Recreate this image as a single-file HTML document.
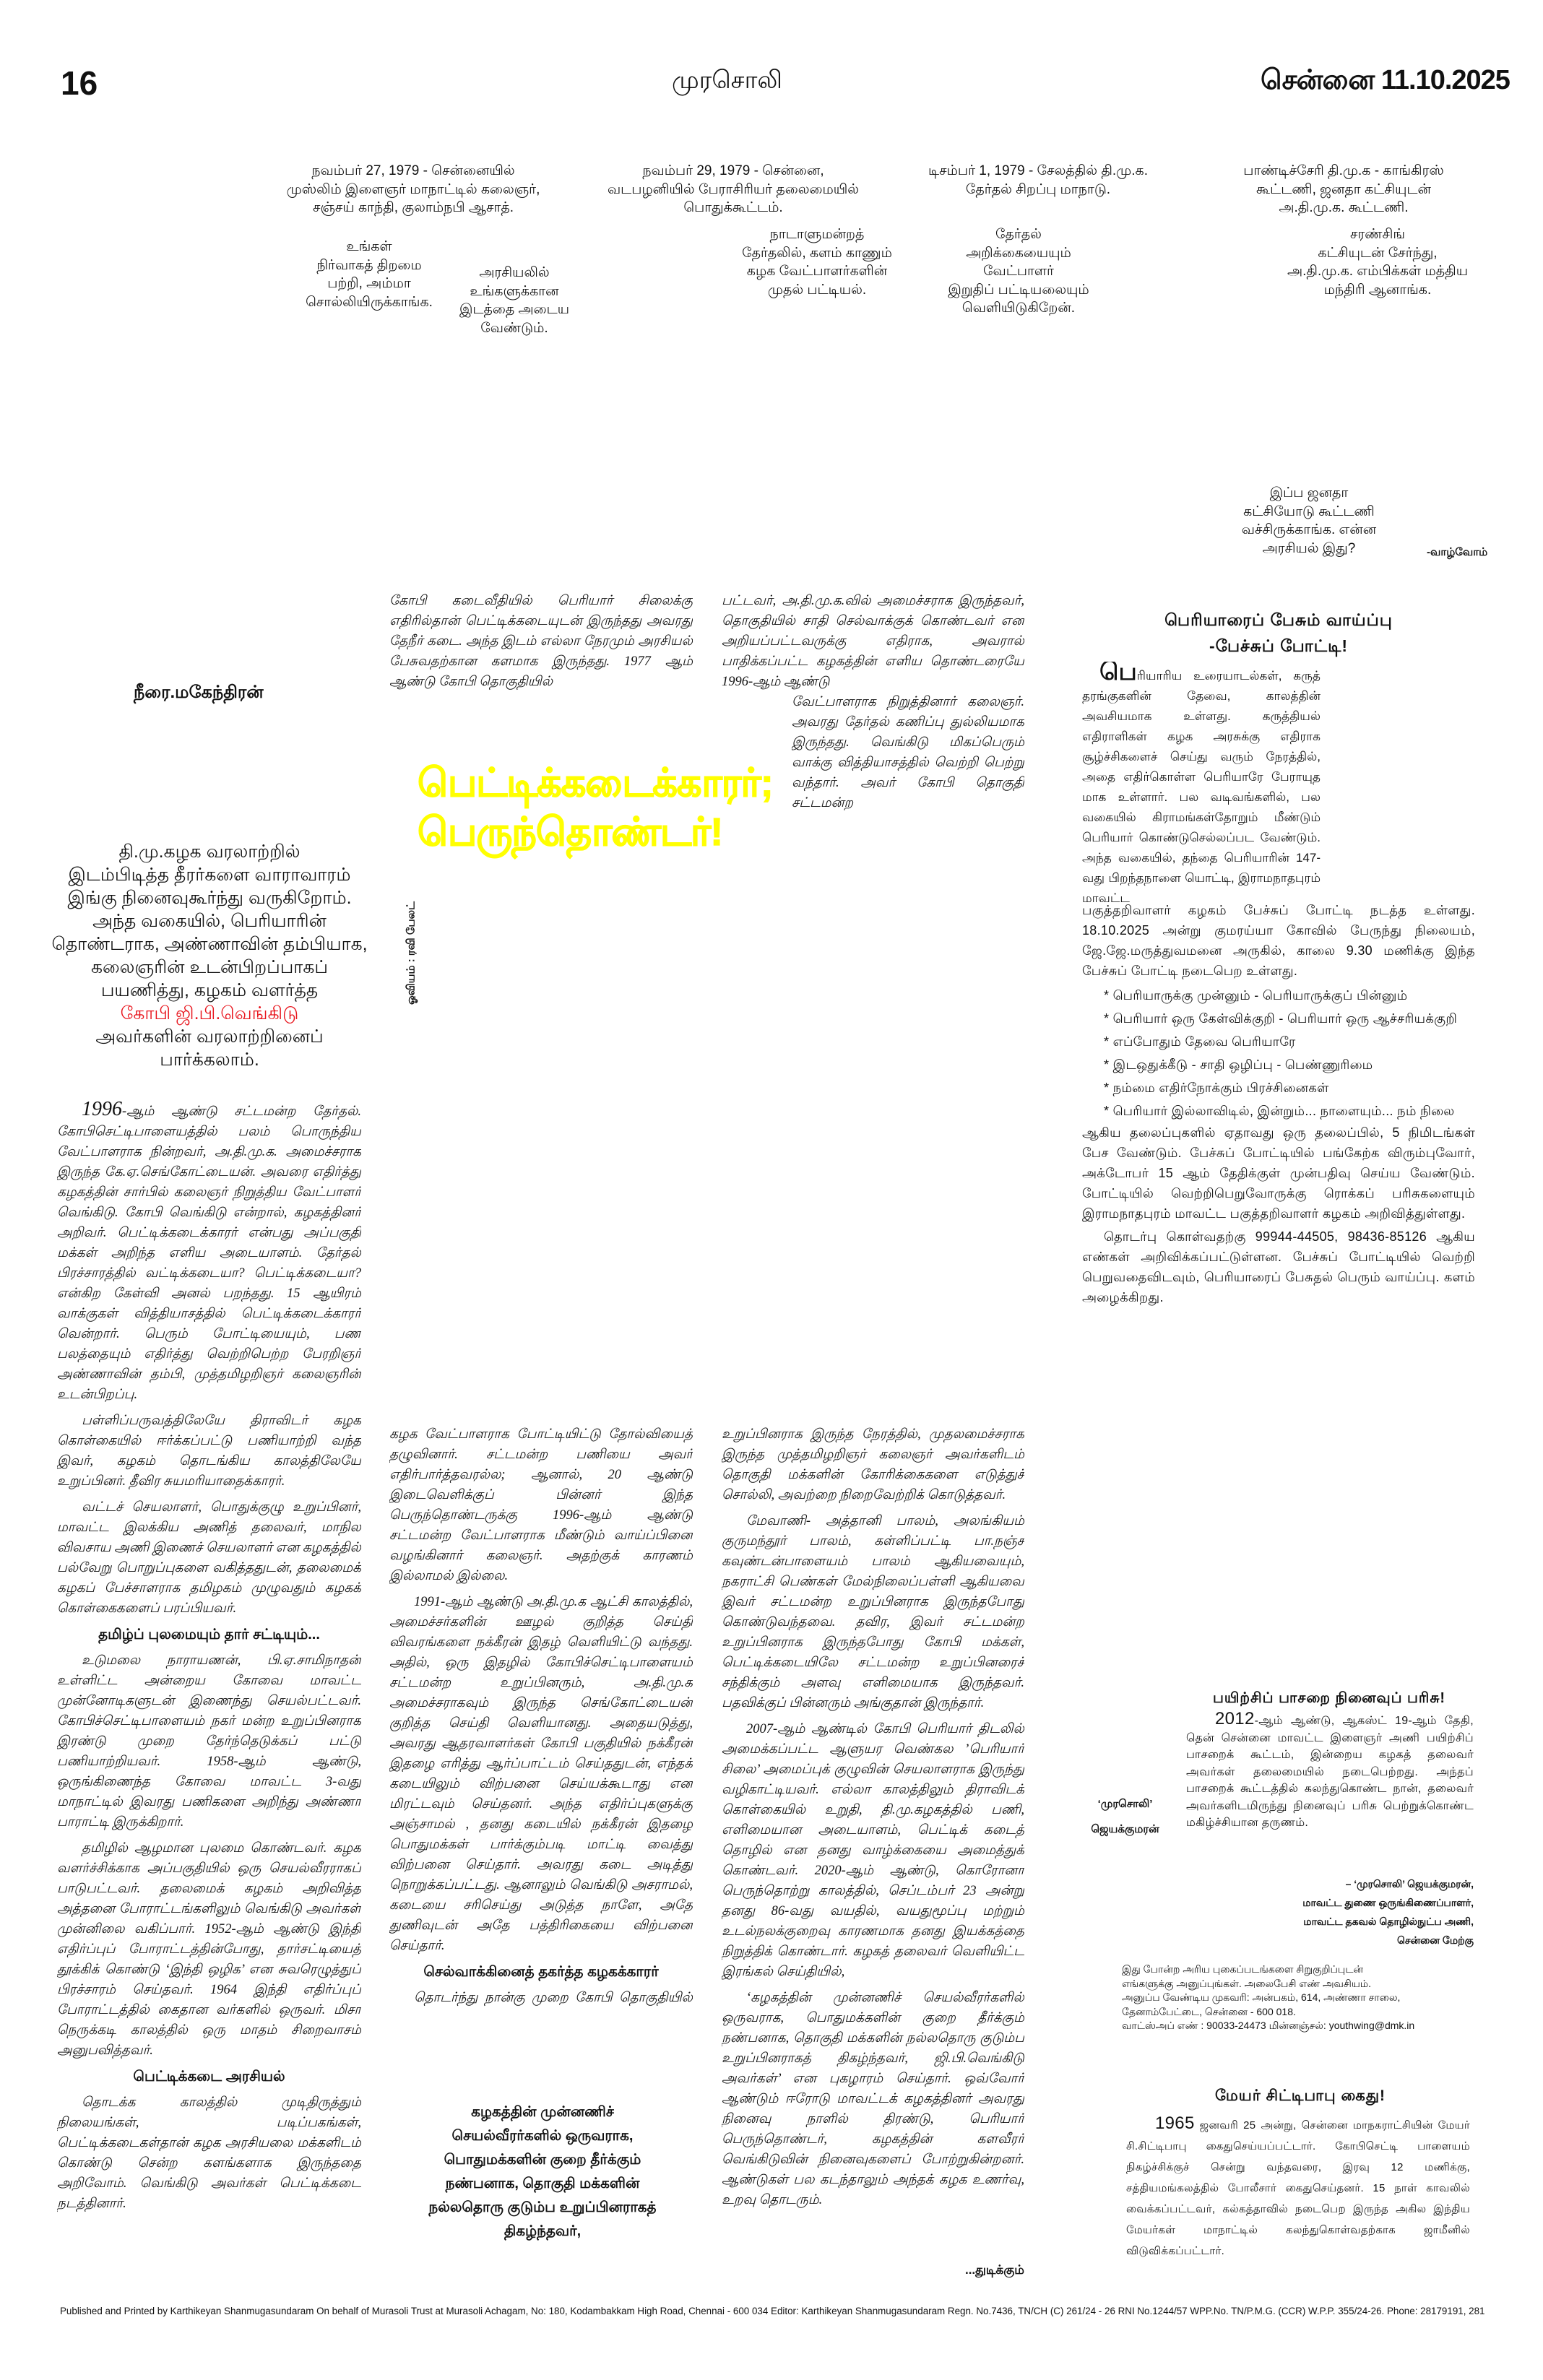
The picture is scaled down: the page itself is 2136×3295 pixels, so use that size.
<!DOCTYPE html>
<html><head><meta charset="utf-8"><style>
body{margin:0;background:#fff;}
#pg{position:relative;width:2136px;height:3295px;overflow:hidden;background:#fff;font-family:"Liberation Sans","Noto Sans CJK SC",sans-serif;color:#111;}
.a{position:absolute;}
.cap{position:absolute;text-align:center;font-size:19px;line-height:25.5px;font-family:"Liberation Sans Narrow","Liberation Sans",sans-serif;}
.col{position:absolute;font-size:18.5px;line-height:28px;text-align:justify;overflow:hidden;font-family:"Liberation Serif",serif;font-style:italic;}
.col p{margin:0 0 8px 0;text-indent:34px;}
.sub{font-weight:bold;font-style:normal;text-align:center;font-size:20px;margin:6px 0 8px 0;font-family:"Liberation Sans",sans-serif;}
.rt{position:absolute;font-size:18px;text-align:justify;overflow:hidden;letter-spacing:0.3px;}
.rt p{margin:0;}
</style></head><body><div id="pg">

<div class="a" style="left:84px;top:88px;font-size:46px;font-weight:bold;">16</div>
<div class="a" style="left:930px;top:92px;font-size:34px;">முரசொலி</div>
<div class="a" style="left:1745px;top:90px;font-size:38px;font-weight:bold;letter-spacing:-1px;">சென்னை 11.10.2025</div>

<div class="cap" style="left:392px;top:224px;width:360px;">நவம்பர் 27, 1979 - சென்னையில்<br>முஸ்லிம் இளைஞர் மாநாட்டில் கலைஞர்,<br>சஞ்சய் காந்தி, குலாம்நபி ஆசாத்.</div>
<div class="cap" style="left:830px;top:224px;width:370px;">நவம்பர் 29, 1979 - சென்னை,<br>வடபழனியில் பேராசிரியர் தலைமையில்<br>பொதுக்கூட்டம்.</div>
<div class="cap" style="left:1250px;top:224px;width:374px;">டிசம்பர் 1, 1979 - சேலத்தில் தி.மு.க.<br>தேர்தல் சிறப்பு மாநாடு.</div>
<div class="cap" style="left:1690px;top:224px;width:340px;">பாண்டிச்சேரி தி.மு.க - காங்கிரஸ்<br>கூட்டணி, ஜனதா கட்சியுடன்<br>அ.தி.மு.க. கூட்டணி.</div>

<div class="cap" style="left:421px;top:329px;width:180px;">உங்கள்<br>நிர்வாகத் திறமை<br>பற்றி, அம்மா<br>சொல்லியிருக்காங்க.</div>
<div class="cap" style="left:627px;top:365px;width:170px;">அரசியலில்<br>உங்களுக்கான<br>இடத்தை அடைய<br>வேண்டும்.</div>
<div class="cap" style="left:1026px;top:312px;width:210px;">நாடாளுமன்றத்<br>தேர்தலில், களம் காணும்<br>கழக வேட்பாளர்களின்<br>முதல் பட்டியல்.</div>
<div class="cap" style="left:1290px;top:312px;width:240px;">தேர்தல்<br>அறிக்கையையும் வேட்பாளர்<br>இறுதிப் பட்டியலையும்<br>வெளியிடுகிறேன்.</div>
<div class="cap" style="left:1747px;top:312px;width:320px;">சரண்சிங்<br>கட்சியுடன் சேர்ந்து,<br>அ.தி.மு.க. எம்பிக்கள் மத்திய<br>மந்திரி ஆனாங்க.</div>
<div class="cap" style="left:1702px;top:670px;width:220px;">இப்ப ஜனதா<br>கட்சியோடு கூட்டணி<br>வச்சிருக்காங்க. என்ன<br>அரசியல் இது?</div>
<div class="a" style="left:1975px;top:756px;font-size:15px;font-weight:bold;">-வாழ்வோம்</div>

<div class="a" style="left:185px;top:945px;font-size:24px;font-weight:bold;">நீரை.மகேந்திரன்</div>
<div class="a" style="left:70px;top:1163px;width:440px;text-align:center;font-size:25px;line-height:32px;">தி.மு.கழக வரலாற்றில்<br>இடம்பிடித்த தீரர்களை வாராவாரம்<br>இங்கு நினைவுகூர்ந்து வருகிறோம்.<br>அந்த வகையில், பெரியாரின்<br>தொண்டராக, அண்ணாவின் தம்பியாக,<br>கலைஞரின் உடன்பிறப்பாகப்<br>பயணித்து, கழகம் வளர்த்த<br><span style="color:#e8141c">கோபி ஜி.பி.வெங்கிடு</span><br>அவர்களின் வரலாற்றினைப்<br>பார்க்கலாம்.</div>

<div class="a" style="left:578px;top:1050px;color:#ffff00;font-weight:bold;font-size:54px;line-height:68px;letter-spacing:-1px;-webkit-text-stroke:1.2px #ffff00;">பெட்டிக்கடைக்காரர்;<br>பெருந்தொண்டர்!</div>
<div class="a" style="left:470px;top:1310px;width:200px;font-size:15px;font-weight:bold;transform:rotate(-90deg);text-align:center;">ஓவியம் : ரவி பேலட்</div>

<div class="col" style="left:79px;top:1522px;width:421px;height:1610px;">
<p><span style="font-size:28px">1996</span>-ஆம் ஆண்டு சட்டமன்ற தேர்தல். கோபிசெட்டிபாளையத்தில் பலம் பொருந்திய வேட்பாளராக நின்றவர், அ.தி.மு.க. அமைச்சராக இருந்த கே.ஏ.செங்கோட்டையன். அவரை எதிர்த்து கழகத்தின் சார்பில் கலைஞர் நிறுத்திய வேட்பாளர் வெங்கிடு. கோபி வெங்கிடு என்றால், கழகத்தினர் அறிவர். பெட்டிக்கடைக்காரர் என்பது அப்பகுதி மக்கள் அறிந்த எளிய அடையாளம். தேர்தல் பிரச்சாரத்தில் வட்டிக்கடையா? பெட்டிக்கடையா? என்கிற கேள்வி அனல் பறந்தது. 15 ஆயிரம் வாக்குகள் வித்தியாசத்தில் பெட்டிக்கடைக்காரர் வென்றார். பெரும் போட்டியையும், பண பலத்தையும் எதிர்த்து வெற்றிபெற்ற பேரறிஞர் அண்ணாவின் தம்பி, முத்தமிழறிஞர் கலைஞரின் உடன்பிறப்பு.</p>
<p>பள்ளிப்பருவத்திலேயே திராவிடர் கழக கொள்கையில் ஈர்க்கப்பட்டு பணியாற்றி வந்த இவர், கழகம் தொடங்கிய காலத்திலேயே உறுப்பினர். தீவிர சுயமரியாதைக்காரர்.</p>
<p>வட்டச் செயலாளர், பொதுக்குழு உறுப்பினர், மாவட்ட இலக்கிய அணித் தலைவர், மாநில விவசாய அணி இணைச் செயலாளர் என கழகத்தில் பல்வேறு பொறுப்புகளை வகித்ததுடன், தலைமைக் கழகப் பேச்சாளராக தமிழகம் முழுவதும் கழகக் கொள்கைகளைப் பரப்பியவர்.</p>
<div class="sub">தமிழ்ப் புலமையும் தார் சட்டியும்...</div>
<p>உடுமலை நாராயணன், பி.ஏ.சாமிநாதன் உள்ளிட்ட அன்றைய கோவை மாவட்ட முன்னோடிகளுடன் இணைந்து செயல்பட்டவர். கோபிச்செட்டிபாளையம் நகர் மன்ற உறுப்பினராக இரண்டு முறை தேர்ந்தெடுக்கப் பட்டு பணியாற்றியவர். 1958-ஆம் ஆண்டு, ஒருங்கிணைந்த கோவை மாவட்ட 3-வது மாநாட்டில் இவரது பணிகளை அறிந்து அண்ணா பாராட்டி இருக்கிறார்.</p>
<p>தமிழில் ஆழமான புலமை கொண்டவர். கழக வளர்ச்சிக்காக அப்பகுதியில் ஒரு செயல்வீரராகப் பாடுபட்டவர். தலைமைக் கழகம் அறிவித்த அத்தனை போராட்டங்களிலும் வெங்கிடு அவர்கள் முன்னிலை வகிப்பார். 1952-ஆம் ஆண்டு இந்தி எதிர்ப்புப் போராட்டத்தின்போது, தார்சட்டியைத் தூக்கிக் கொண்டு ‘இந்தி ஒழிக’ என சுவரெழுத்துப் பிரச்சாரம் செய்தவர். 1964 இந்தி எதிர்ப்புப் போராட்டத்தில் கைதான வர்களில் ஒருவர். மிசா நெருக்கடி காலத்தில் ஒரு மாதம் சிறைவாசம் அனுபவித்தவர்.</p>
<div class="sub">பெட்டிக்கடை அரசியல்</div>
<p>தொடக்க காலத்தில் முடிதிருத்தும் நிலையங்கள், படிப்பகங்கள், பெட்டிக்கடைகள்தான் கழக அரசியலை மக்களிடம் கொண்டு சென்ற களங்களாக இருந்ததை அறிவோம். வெங்கிடு அவர்கள் பெட்டிக்கடை நடத்தினார்.</p>
</div>

<div class="col" style="left:539px;top:818px;width:420px;height:140px;">
கோபி கடைவீதியில் பெரியார் சிலைக்கு எதிரில்தான் பெட்டிக்கடையுடன் இருந்தது அவரது தேநீர் கடை. அந்த இடம் எல்லா நேரமும் அரசியல் பேசுவதற்கான களமாக இருந்தது. 1977 ஆம் ஆண்டு கோபி தொகுதியில்</div>
<div class="col" style="left:999px;top:818px;width:419px;height:140px;">
பட்டவர், அ.தி.மு.க.வில் அமைச்சராக இருந்தவர், தொகுதியில் சாதி செல்வாக்குக் கொண்டவர் என அறியப்பட்டவருக்கு எதிராக, அவரால் பாதிக்கப்பட்ட கழகத்தின் எளிய தொண்டரையே 1996-ஆம் ஆண்டு</div>
<div class="col" style="left:1096px;top:958px;width:322px;height:170px;">
வேட்பாளராக நிறுத்தினார் கலைஞர். அவரது தேர்தல் கணிப்பு துல்லியமாக இருந்தது. வெங்கிடு மிகப்பெரும் வாக்கு வித்தியாசத்தில் வெற்றி பெற்று வந்தார். அவர் கோபி தொகுதி சட்டமன்ற</div>

<div class="col" style="left:539px;top:1972px;width:420px;height:810px;">
<p style="text-indent:0">கழக வேட்பாளராக போட்டியிட்டு தோல்வியைத் தழுவினார். சட்டமன்ற பணியை அவர் எதிர்பார்த்தவரல்ல; ஆனால், 20 ஆண்டு இடைவெளிக்குப் பின்னர் இந்த பெருந்தொண்டருக்கு 1996-ஆம் ஆண்டு சட்டமன்ற வேட்பாளராக மீண்டும் வாய்ப்பினை வழங்கினார் கலைஞர். அதற்குக் காரணம் இல்லாமல் இல்லை.</p>
<p>1991-ஆம் ஆண்டு அ.தி.மு.க ஆட்சி காலத்தில், அமைச்சர்களின் ஊழல் குறித்த செய்தி விவரங்களை நக்கீரன் இதழ் வெளியிட்டு வந்தது. அதில், ஒரு இதழில் கோபிச்செட்டிபாளையம் சட்டமன்ற உறுப்பினரும், அ.தி.மு.க அமைச்சராகவும் இருந்த செங்கோட்டையன் குறித்த செய்தி வெளியானது. அதையடுத்து, அவரது ஆதரவாளர்கள் கோபி பகுதியில் நக்கீரன் இதழை எரித்து ஆர்ப்பாட்டம் செய்ததுடன், எந்தக் கடையிலும் விற்பனை செய்யக்கூடாது என மிரட்டவும் செய்தனர். அந்த எதிர்ப்புகளுக்கு அஞ்சாமல் , தனது கடையில் நக்கீரன் இதழை பொதுமக்கள் பார்க்கும்படி மாட்டி வைத்து விற்பனை செய்தார். அவரது கடை அடித்து நொறுக்கப்பட்டது. ஆனாலும் வெங்கிடு அசராமல், கடையை சரிசெய்து அடுத்த நாளே, அதே துணிவுடன் அதே பத்திரிகையை விற்பனை செய்தார்.</p>
<div class="sub">செல்வாக்கினைத் தகர்த்த கழகக்காரர்</div>
<p>தொடர்ந்து நான்கு முறை கோபி தொகுதியில் சட்டமன்ற உறுப்பினராகத் தேர்ந்தெடுக்கப்</p>
</div>

<div class="a" style="left:590px;top:2908px;width:322px;text-align:center;font-size:20px;line-height:33px;font-weight:bold;">கழகத்தின் முன்னணிச்<br>செயல்வீரர்களில் ஒருவராக,<br>பொதுமக்களின் குறை தீர்க்கும்<br>நண்பனாக, தொகுதி மக்களின்<br>நல்லதொரு குடும்ப உறுப்பினராகத்<br>திகழ்ந்தவர்,</div>

<div class="col" style="left:999px;top:1972px;width:419px;height:1150px;">
<p style="text-indent:0">உறுப்பினராக இருந்த நேரத்தில், முதலமைச்சராக இருந்த முத்தமிழறிஞர் கலைஞர் அவர்களிடம் தொகுதி மக்களின் கோரிக்கைகளை எடுத்துச் சொல்லி, அவற்றை நிறைவேற்றிக் கொடுத்தவர்.</p>
<p>மேவாணி- அத்தானி பாலம், அலங்கியம் குருமந்தூர் பாலம், கள்ளிப்பட்டி பா.நஞ்ச கவுண்டன்பாளையம் பாலம் ஆகியவையும், நகராட்சி பெண்கள் மேல்நிலைப்பள்ளி ஆகியவை இவர் சட்டமன்ற உறுப்பினராக இருந்தபோது கொண்டுவந்தவை. தவிர, இவர் சட்டமன்ற உறுப்பினராக இருந்தபோது கோபி மக்கள், பெட்டிக்கடையிலே சட்டமன்ற உறுப்பினரைச் சந்திக்கும் அளவு எளிமையாக இருந்தவர். பதவிக்குப் பின்னரும் அங்குதான் இருந்தார்.</p>
<p>2007-ஆம் ஆண்டில் கோபி பெரியார் திடலில் அமைக்கப்பட்ட ஆளுயர வெண்கல ’பெரியார் சிலை’ அமைப்புக் குழுவின் செயலாளராக இருந்து வழிகாட்டியவர். எல்லா காலத்திலும் திராவிடக் கொள்கையில் உறுதி, தி.மு.கழகத்தில் பணி, எளிமையான அடையாளம், பெட்டிக் கடைத் தொழில் என தனது வாழ்க்கையை அமைத்துக் கொண்டவர். 2020-ஆம் ஆண்டு, கொரோனா பெருந்தொற்று காலத்தில், செப்டம்பர் 23 அன்று தனது 86-வது வயதில், வயதுமூப்பு மற்றும் உடல்நலக்குறைவு காரணமாக தனது இயக்கத்தை நிறுத்திக் கொண்டார். கழகத் தலைவர் வெளியிட்ட இரங்கல் செய்தியில்,</p>
<p>‘கழகத்தின் முன்னணிச் செயல்வீரர்களில் ஒருவராக, பொதுமக்களின் குறை தீர்க்கும் நண்பனாக, தொகுதி மக்களின் நல்லதொரு குடும்ப உறுப்பினராகத் திகழ்ந்தவர், ஜி.பி.வெங்கிடு அவர்கள்’ என புகழாரம் செய்தார். ஒவ்வோர் ஆண்டும் ஈரோடு மாவட்டக் கழகத்தினர் அவரது நினைவு நாளில் திரண்டு, பெரியார் பெருந்தொண்டர், கழகத்தின் களவீரர் வெங்கிடுவின் நினைவுகளைப் போற்றுகின்றனர். ஆண்டுகள் பல கடந்தாலும் அந்தக் கழக உணர்வு, உறவு தொடரும்.</p>
</div>
<div class="a" style="left:1310px;top:3133px;width:108px;text-align:right;font-size:17px;font-weight:bold;">...துடிக்கும்</div>

<div class="a" style="left:1560px;top:840px;width:420px;text-align:center;font-size:23px;line-height:36px;font-weight:bold;letter-spacing:1px;">பெரியாரைப் பேசும் வாய்ப்பு<br>-பேச்சுப் போட்டி!</div>
<div class="rt" style="left:1498px;top:916px;width:330px;height:336px;line-height:28px;font-size:17px;letter-spacing:0;"><p><span style="font-size:34px;font-weight:bold;padding-left:24px">பெ</span>ரியாரிய உரையாடல்கள், கருத் தரங்குகளின் தேவை, காலத்தின் அவசியமாக உள்ளது. கருத்தியல் எதிராளிகள் கழக அரசுக்கு எதிராக சூழ்ச்சிகளைச் செய்து வரும் நேரத்தில், அதை எதிர்கொள்ள பெரியாரே பேராயுத மாக உள்ளார். பல வடிவங்களில், பல வகையில் கிராமங்கள்தோறும் மீண்டும் பெரியார் கொண்டுசெல்லப்பட வேண்டும். அந்த வகையில், தந்தை பெரியாரின் 147-வது பிறந்தநாளை யொட்டி, இராமநாதபுரம் மாவட்ட</p></div>
<div class="rt" style="left:1498px;top:1246px;width:544px;height:570px;line-height:28px;">
<p>பகுத்தறிவாளர் கழகம் பேச்சுப் போட்டி நடத்த உள்ளது. 18.10.2025 அன்று குமரய்யா கோவில் பேருந்து நிலையம், ஜே.ஜே.மருத்துவமனை அருகில், காலை 9.30 மணிக்கு இந்த பேச்சுப் போட்டி நடைபெற உள்ளது.</p>
<p style="padding-left:30px;line-height:32px;margin-top:4px">* பெரியாருக்கு முன்னும் - பெரியாருக்குப் பின்னும்<br>* பெரியார் ஒரு கேள்விக்குறி - பெரியார் ஒரு ஆச்சரியக்குறி<br>* எப்போதும் தேவை பெரியாரே<br>* இடஒதுக்கீடு - சாதி ஒழிப்பு - பெண்ணுரிமை<br>* நம்மை எதிர்நோக்கும் பிரச்சினைகள்<br>* பெரியார் இல்லாவிடில், இன்றும்... நாளையும்... நம் நிலை</p>
<p>ஆகிய தலைப்புகளில் ஏதாவது ஒரு தலைப்பில், 5 நிமிடங்கள் பேச வேண்டும். பேச்சுப் போட்டியில் பங்கேற்க விரும்புவோர், அக்டோபர் 15 ஆம் தேதிக்குள் முன்பதிவு செய்ய வேண்டும். போட்டியில் வெற்றிபெறுவோருக்கு ரொக்கப் பரிசுகளையும் இராமநாதபுரம் மாவட்ட பகுத்தறிவாளர் கழகம் அறிவித்துள்ளது.</p>
<p style="text-indent:30px;margin-top:4px">தொடர்பு கொள்வதற்கு 99944-44505, 98436-85126 ஆகிய எண்கள் அறிவிக்கப்பட்டுள்ளன. பேச்சுப் போட்டியில் வெற்றி பெறுவதைவிடவும், பெரியாரைப் பேசுதல் பெரும் வாய்ப்பு. களம் அழைக்கிறது.</p>
</div>

<div class="a" style="left:1640px;top:2340px;width:400px;text-align:center;font-size:20px;font-weight:bold;letter-spacing:1px;">பயிற்சிப் பாசறை நினைவுப் பரிசு!</div>
<div class="rt" style="left:1642px;top:2368px;width:398px;height:215px;line-height:23.5px;font-size:16px;"><p style="text-indent:40px"><span style="font-size:24px">2012</span>-ஆம் ஆண்டு, ஆகஸ்ட் 19-ஆம் தேதி, தென் சென்னை மாவட்ட இளைஞர் அணி பயிற்சிப் பாசறைக் கூட்டம், இன்றைய கழகத் தலைவர் அவர்கள் தலைமையில் நடைபெற்றது. அந்தப் பாசறைக் கூட்டத்தில் கலந்துகொண்ட நான், தலைவர் அவர்களிடமிருந்து நினைவுப் பரிசு பெற்றுக்கொண்ட மகிழ்ச்சியான தருணம்.</p></div>
<div class="a" style="left:1495px;top:2480px;width:125px;text-align:center;font-size:15px;line-height:35px;font-weight:bold;">‘முரசொலி’<br>ஜெயக்குமரன்</div>
<div class="a" style="left:1700px;top:2595px;width:340px;text-align:right;font-size:14px;line-height:26px;font-weight:bold;">– ‘முரசொலி’ ஜெயக்குமரன்,<br>மாவட்ட துணை ஒருங்கிணைப்பாளர்,<br>மாவட்ட தகவல் தொழில்நுட்ப அணி,<br>சென்னை மேற்கு</div>
<div class="a" style="left:1553px;top:2717px;width:490px;font-size:14px;line-height:19.5px;">இது போன்ற அரிய புகைப்படங்களை சிறுகுறிப்புடன்<br>எங்களுக்கு அனுப்புங்கள். அலைபேசி எண் அவசியம்.<br>அனுப்ப வேண்டிய முகவரி: அன்பகம், 614, அண்ணா சாலை,<br>தேனாம்பேட்டை, சென்னை - 600 018.<br>வாட்ஸ்அப் எண் : 90033-24473 மின்னஞ்சல்: youthwing@dmk.in</div>

<div class="a" style="left:1640px;top:2890px;width:320px;text-align:center;font-size:21px;font-weight:bold;letter-spacing:1px;">மேயர் சிட்டிபாபு கைது!</div>
<div class="rt" style="left:1559px;top:2925px;width:476px;height:210px;line-height:29px;font-size:15px;"><p style="text-indent:40px"><span style="font-size:24px">1965</span> ஜனவரி 25 அன்று, சென்னை மாநகராட்சியின் மேயர் சி.சிட்டிபாபு கைதுசெய்யப்பட்டார். கோபிசெட்டி பாளையம் நிகழ்ச்சிக்குச் சென்று வந்தவரை, இரவு 12 மணிக்கு, சத்தியமங்கலத்தில் போலீசார் கைதுசெய்தனர். 15 நாள் காவலில் வைக்கப்பட்டவர், கல்கத்தாவில் நடைபெற இருந்த அகில இந்திய மேயர்கள் மாநாட்டில் கலந்துகொள்வதற்காக ஜாமீனில் விடுவிக்கப்பட்டார்.</p></div>

<div class="a" style="left:83px;top:3192px;width:1973px;font-size:13.4px;white-space:nowrap;letter-spacing:0;overflow:hidden;">Published and Printed by Karthikeyan Shanmugasundaram On behalf of Murasoli Trust at Murasoli Achagam, No: 180, Kodambakkam High Road, Chennai - 600 034 Editor: Karthikeyan Shanmugasundaram Regn. No.7436, TN/CH (C) 261/24 - 26 RNI No.1244/57 WPP.No. TN/P.M.G. (CCR) W.P.P. 355/24-26. Phone: 28179191, 28179131</div>

</div></body></html>
